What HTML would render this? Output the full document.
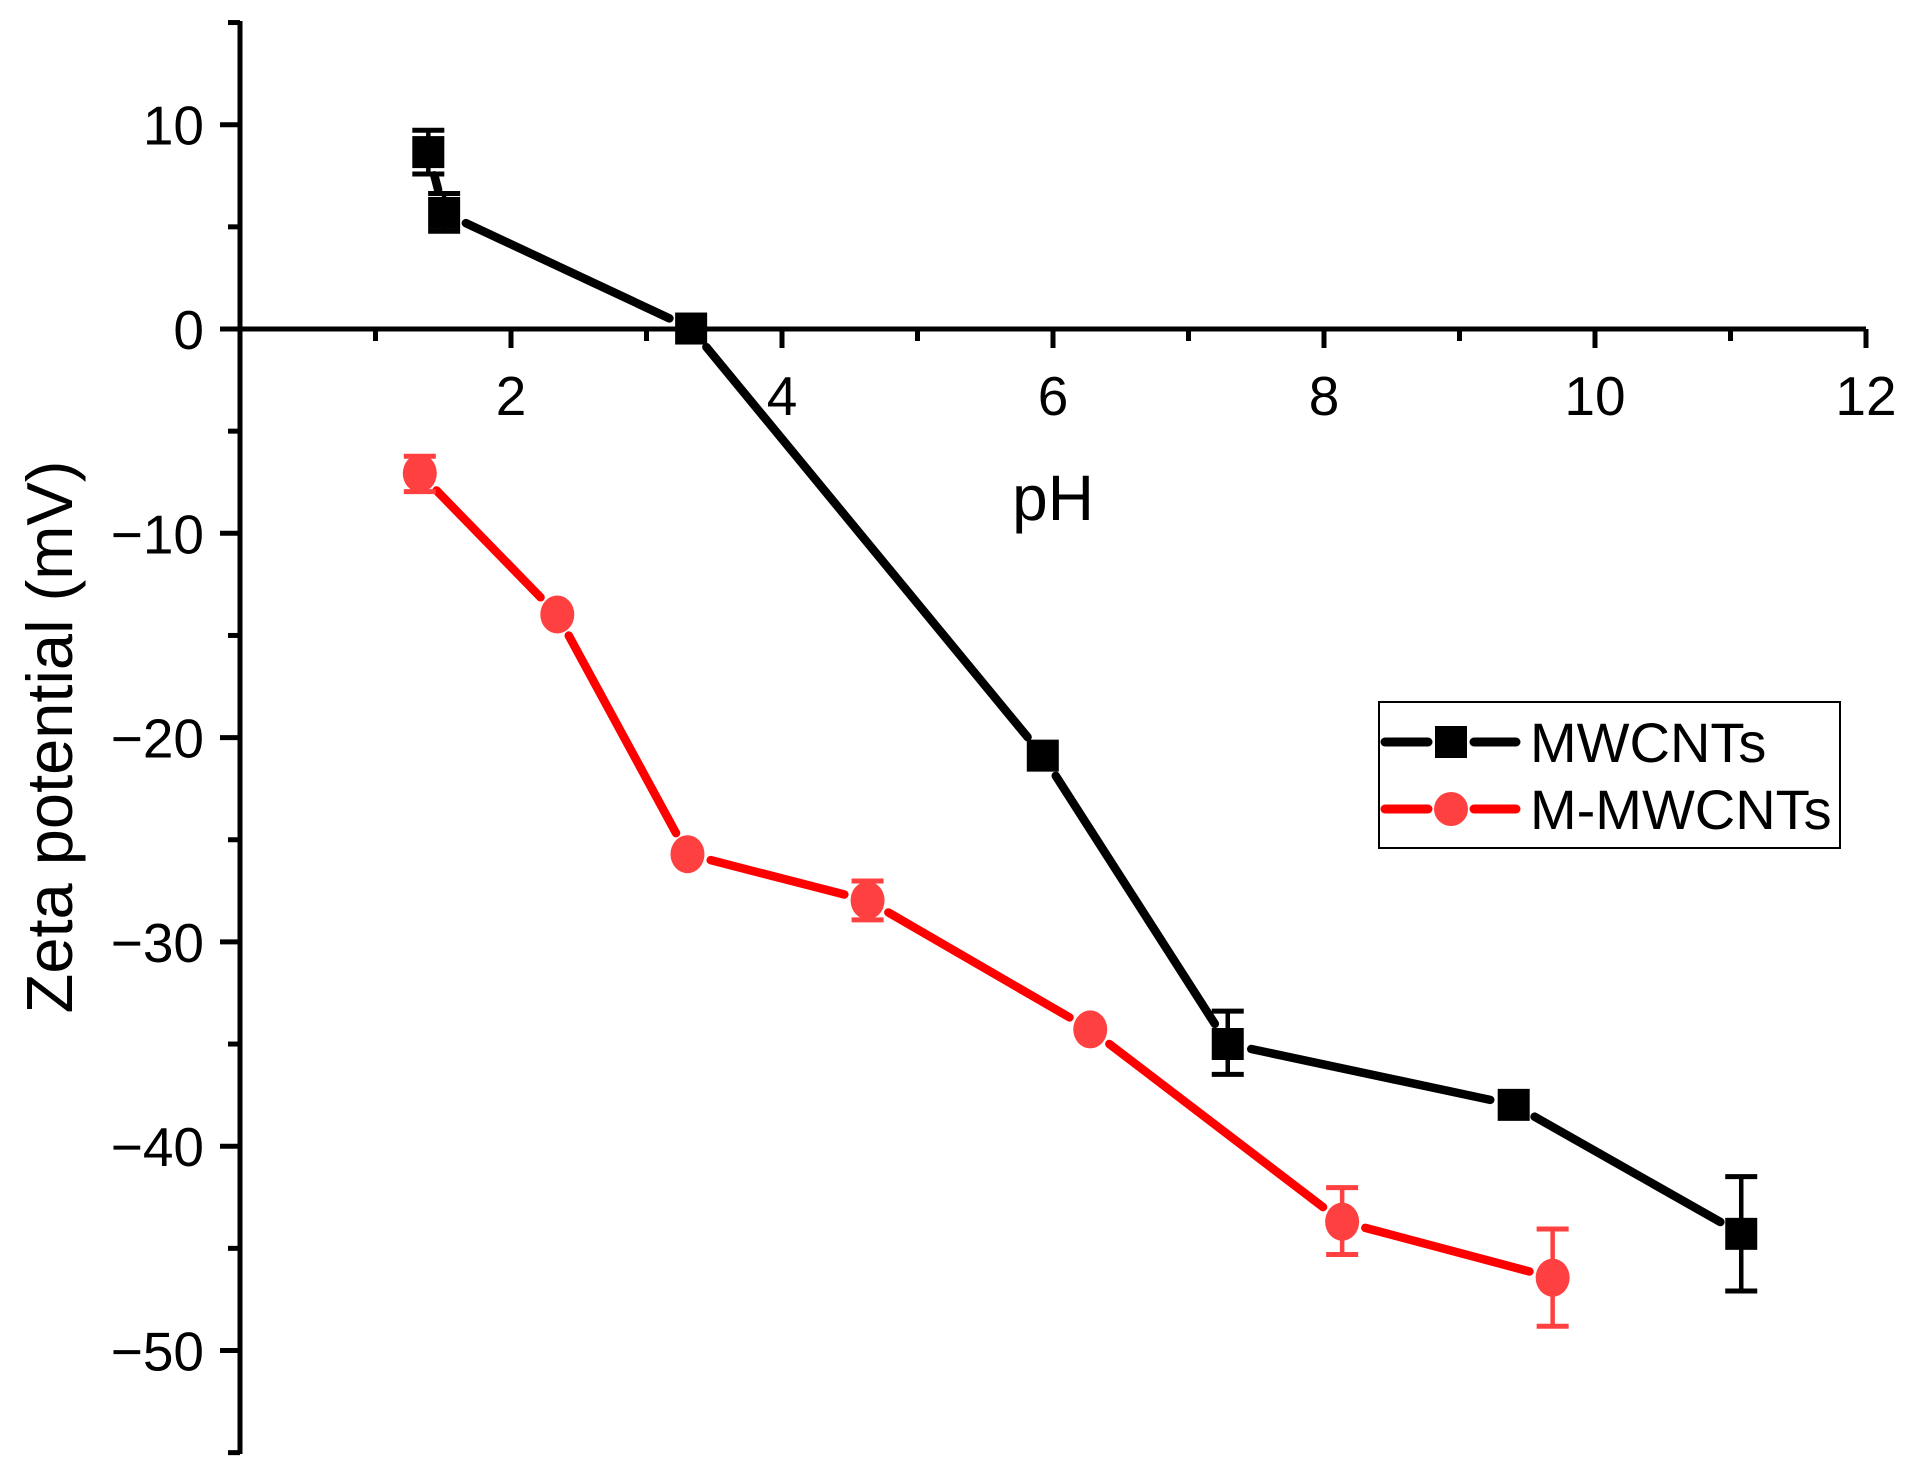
<!DOCTYPE html>
<html><head><meta charset="utf-8"><style>
html,body{margin:0;padding:0;background:#fff;}
svg{display:block;font-family:"Liberation Sans",Arial,sans-serif;}
</style></head><body>
<svg id="s" width="1908" height="1470" viewBox="0 0 1908 1470" xmlns="http://www.w3.org/2000/svg"></svg>
<script>
const s=document.getElementById('s');
let h='';
const k=1.2168;
const X=v=>240+v*135.5, Y=v=>329-v*20.43;
h+=`<line x1="240" y1="21" x2="240" y2="1454" stroke="#000" stroke-width="5"/>`;
h+=`<line x1="240" y1="329" x2="1866" y2="329" stroke="#000" stroke-width="5"/>`;
for(let v=-55;v<=15;v+=5){const y=Y(v);const maj=v%10==0;h+=`<line x1="${maj?220:228}" y1="${y}" x2="240" y2="${y}" stroke="#000" stroke-width="5"/>`;
 if(maj){const t=v<0?'\u2212'+Math.abs(v):String(v);h+=`<text x="204" y="${y+20}" font-size="55" text-anchor="end">${t}</text>`;}}
for(let v=1;v<=12;v++){const x=X(v);const maj=v%2==0;h+=`<line x1="${x}" y1="329" x2="${x}" y2="${maj?348:341}" stroke="#000" stroke-width="5"/>`;
 if(maj)h+=`<text x="${x}" y="415" font-size="55" text-anchor="middle">${v}</text>`;}
h+=`<text x="1053" y="520" font-size="64" text-anchor="middle">pH</text>`;
h+=`<text transform="translate(72,737) rotate(-90)" font-size="65" text-anchor="middle">Zeta potential (mV)</text>`;
function series(pts,errs,col,mcol,sq){
 pts=pts.map(p=>[p[0]*k,p[1]*k]);
 for(let i=0;i<pts.length-1;i++){const[a,b]=[pts[i],pts[i+1]];const dx=b[0]-a[0],dy=b[1]-a[1],L=Math.hypot(dx,dy),g=Math.min(24,L/2-1);
  h+=`<line x1="${a[0]+dx/L*g}" y1="${a[1]+dy/L*g}" x2="${b[0]-dx/L*g}" y2="${b[1]-dy/L*g}" stroke="${col}" stroke-width="8.5" stroke-linecap="round"/>`;}
 errs.forEach(e=>{const x=pts[e[0]][0],y1=e[1]*k,y2=e[2]*k;
  h+=`<line x1="${x}" y1="${y1}" x2="${x}" y2="${y2}" stroke="${mcol}" stroke-width="4.5"/><line x1="${x-16}" y1="${y1}" x2="${x+16}" y2="${y1}" stroke="${mcol}" stroke-width="5"/><line x1="${x-16}" y1="${y2}" x2="${x+16}" y2="${y2}" stroke="${mcol}" stroke-width="5"/>`;});
 pts.forEach(p=>{h+=sq?`<rect x="${p[0]-16}" y="${p[1]-16}" width="32" height="32" fill="${mcol}"/>`:`<ellipse cx="${p[0]}" cy="${p[1]}" rx="17" ry="19" fill="${mcol}"/>`;});
}
series([[352,125],[365,175],[568,270],[857,621],[1009,858],[1244,908],[1431,1014]],[[0,107,143],[1,159,190],[4,831,883],[6,967,1061]],'#000','#000',true);
series([[345,389],[458,505],[565,702],[713,740],[896,846],[1103,1004],[1276,1050]],[[0,375,404],[3,724,756],[5,976,1031],[6,1010,1090]],'#ff0000','#ff4040',false);
h+=`<rect x="1379" y="702" width="461" height="146" fill="#fff" stroke="#000" stroke-width="2"/>`;
[[742,'#000','#000',true,'MWCNTs'],[809,'#ff0000','#ff4040',false,'M-MWCNTs']].forEach(r=>{const y=r[0];
 h+=`<line x1="1385" y1="${y}" x2="1428" y2="${y}" stroke="${r[1]}" stroke-width="9" stroke-linecap="round"/><line x1="1474" y1="${y}" x2="1516" y2="${y}" stroke="${r[1]}" stroke-width="9" stroke-linecap="round"/>`;
 h+=r[3]?`<rect x="1435" y="${y-16}" width="32" height="32" fill="#000"/>`:`<circle cx="1451" cy="${y}" r="17" fill="${r[2]}"/>`;
 h+=`<text x="1530" y="${y+20}" font-size="56">${r[4]}</text>`;});
s.innerHTML=h;
</script>
</body></html>
